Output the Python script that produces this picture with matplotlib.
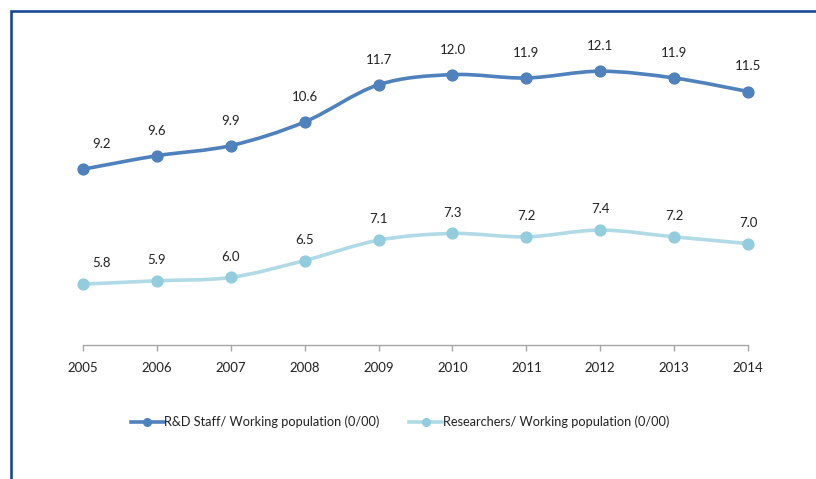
import matplotlib
matplotlib.use("Agg")
import matplotlib.pyplot as plt
from matplotlib.path import Path
from matplotlib.patches import PathPatch
from matplotlib.lines import Line2D
import numpy as np

years = [2005, 2006, 2007, 2008, 2009, 2010, 2011, 2012, 2013, 2014]
rd_staff = [9.2, 9.6, 9.9, 10.6, 11.7, 12.0, 11.9, 12.1, 11.9, 11.5]
researchers = [5.8, 5.9, 6.0, 6.5, 7.1, 7.3, 7.2, 7.4, 7.2, 7.0]
tick_labels = [str(y) for y in years]
series_names = ["R&D Staff/ Working population (0/00)",
                "Researchers/ Working population (0/00)"]

plt.rcParams['font.family'] = ['Lato', 'DejaVu Sans']

W, H = 816, 479
fig = plt.figure(figsize=(W / 100, H / 100), dpi=100)
ax = fig.add_axes([83 / W, 1 - 345 / H, (748 - 83) / W, (345 - 7) / H])
ax.set_xlim(years[0], years[-1])
ax.set_ylim(4, 14)


def smooth_path(xs, ys):
    pts = np.column_stack([xs, ys]).astype(float)
    n = len(pts)
    verts = [pts[0]]
    codes = [Path.MOVETO]
    for i in range(n - 1):
        p0 = pts[i - 1] if i > 0 else pts[i]
        p1 = pts[i]
        p2 = pts[i + 1]
        p3 = pts[i + 2] if i + 2 < n else pts[i + 1]
        c1 = p1 + (p2 - p0) / 6.0
        c2 = p2 - (p3 - p1) / 6.0
        verts += [c1, c2, p2]
        codes += [Path.CURVE4] * 3
    return Path(verts, codes)


def draw_series(vals, line_color, marker_color, dy):
    patch = PathPatch(smooth_path(years, vals), facecolor='none',
                      edgecolor=line_color, lw=2.6, clip_on=False,
                      capstyle='round', joinstyle='round', zorder=3)
    ax.add_patch(patch)
    ax.plot(years, vals, linestyle='none', marker='o', ms=7.8,
            color=marker_color, clip_on=False, zorder=4)
    for i, (x, v) in enumerate(zip(years, vals)):
        dx = 13 if i == 0 else 0
        ax.annotate(f"{v:.1f}", (x, v), xytext=(dx, dy),
                    textcoords='offset points', ha='center', va='center',
                    fontsize=9.5, color='#222222')


rd_color = '#4F81BD'
res_line = '#B0DAE6'
res_marker = '#93CDDD'
draw_series(rd_staff, rd_color, rd_color, 18)
draw_series(researchers, res_line, res_marker, 15)

for s in ['top', 'right', 'left']:
    ax.spines[s].set_visible(False)
ax.spines['bottom'].set_color('#A6A6A6')
ax.spines['bottom'].set_linewidth(1.0)
ax.set_yticks([])
ax.set_xticks(years)
ax.set_xticklabels(tick_labels)
ax.tick_params(axis='x', direction='out', length=4, width=1.0,
               color='#A6A6A6', labelsize=9.5, labelcolor='#222222', pad=8)

handles = [
    Line2D([], [], color=rd_color, lw=2.6, marker='o', ms=5.5),
    Line2D([], [], color=res_line, lw=2.6, marker='o', ms=5.5,
           markerfacecolor=res_marker, markeredgecolor=res_marker),
]
fig.legend(handles, series_names, loc='center', ncol=2,
           bbox_to_anchor=(400 / W, 1 - 422 / H), frameon=False,
           fontsize=9.2, handlelength=2.6, handletextpad=0.05,
           columnspacing=2.3, labelcolor='#222222')

# outer frame (cropped)
frame_color = '#1A4A94'
fig.add_artist(Line2D([10.5 / W, 10.5 / W, 1.0], [0, 1 - 11 / H, 1 - 11 / H],
                      transform=fig.transFigure, color=frame_color,
                      lw=1.9, solid_joinstyle='miter'))

fig.savefig('out.png', dpi=100)
